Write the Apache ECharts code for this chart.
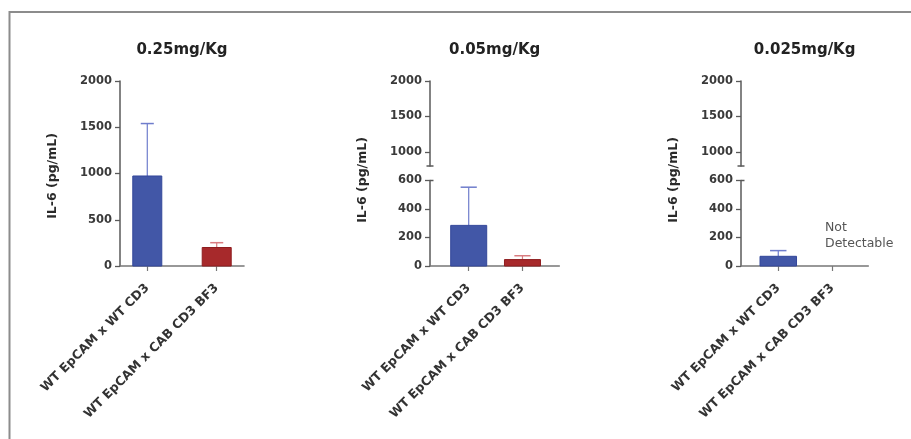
<!DOCTYPE html>
<html>
<head>
<meta charset="utf-8">
<style>
  html, body { margin: 0; padding: 0; background: #fff; }
  #chart { width: 911px; height: 439px; }
</style>
<script src="https://cdn.jsdelivr.net/npm/echarts@6/dist/echarts.min.js"></script>
</head>
<body>
<div id="chart"></div>
<script>
// ---- data ----
var categories = ['WT EpCAM x WT CD3', 'WT EpCAM x CAB CD3 BF3'];
var doses = ['0.25mg/Kg', '0.05mg/Kg', '0.025mg/Kg'];
var meanDose025 = [973, 200];
var upperDose025 = [1540, 252];
var meanDose005 = [285, 45];
var upperDose005 = [553, 72];
var meanDose0025 = [68, null];
var upperDose0025 = [108, null];
var fullTicks = [0, 500, 1000, 1500, 2000];
var upperTicks = [1000, 1500, 2000];
var lowerTicks = [0, 200, 400, 600];
var noteText = 'Not\nDetectable';

// ---- style / layout ----
var FONT = 'DejaVu Sans';
var barColors = ['#4257a7', '#a7292b'];
var barBorders = ['#33479a', '#8e1d1f'];
var whiskerColors = ['#6f7dcc', '#d97c80'];
var axisColor = '#5a5a5a';
var xAxisColor = '#777777';

var panels = [
  { left: 120, width: 124, xmin: -0.393, xmax: 1.393, barW: 29, broken: false,
    mean: meanDose025, upper: upperDose025 },
  { left: 430, width: 129.3, xmin: -0.72, xmax: 1.685, barW: 36, broken: true,
    mean: meanDose005, upper: upperDose005 },
  { left: 741, width: 127.3, xmin: -0.69, xmax: 1.667, barW: 36.5, broken: true,
    mean: meanDose0025, upper: upperDose0025 }
];
var TOP = 81, BOTTOM = 266, UPPER_BOTTOM = 166, LOWER_TOP = 180.5;

var grids = [], xAxes = [], yAxes = [], series = [], graphics = [];

function makeData(p) {
  var d = [];
  for (var i = 0; i < categories.length; i++) {
    if (p.mean[i] != null) d.push([i, p.mean[i], p.upper[i]]);
  }
  return d;
}

function barRenderer(barW) {
  return function (params, api) {
    var x = api.value(0), m = api.value(1), u = api.value(2);
    var idx = Math.round(x);
    var base = api.coord([x, 0]);
    var top = api.coord([x, m]);
    var up = api.coord([x, u]);
    var cw = barW * 0.45;
    return {
      type: 'group',
      children: [
        { type: 'line', shape: { x1: base[0], y1: top[1], x2: base[0], y2: up[1] },
          style: { stroke: whiskerColors[idx], lineWidth: 1.2 } },
        { type: 'line', shape: { x1: base[0] - cw / 2, y1: up[1], x2: base[0] + cw / 2, y2: up[1] },
          style: { stroke: whiskerColors[idx], lineWidth: 1.5 } },
        { type: 'rect', shape: { x: base[0] - barW / 2, y: top[1], width: barW, height: base[1] - top[1] },
          style: { fill: barColors[idx], stroke: barBorders[idx], lineWidth: 1 } }
      ]
    };
  };
}

function capRenderer(leftLen, rightLen) {
  return function (params, api) {
    var p = api.coord([api.value(0), api.value(1)]);
    return { type: 'line', shape: { x1: p[0] - leftLen, y1: p[1], x2: p[0] + rightLen, y2: p[1] },
      style: { stroke: axisColor, lineWidth: 1.5 } };
  };
}

var yLabelStyle = { fontFamily: FONT, fontWeight: 'bold', fontSize: 11.5, color: '#3a3a3a', margin: 8,
  formatter: function (v) { return String(v); } };

panels.forEach(function (p, pi) {
  var catX = {
    type: 'value', min: p.xmin, max: p.xmax,
    axisLine: { show: true, onZero: false, lineStyle: { color: xAxisColor, width: 1.6 } },
    axisTick: { show: true, customValues: [0, 1], length: 5, lineStyle: { color: xAxisColor, width: 1.2 } },
    axisLabel: {
      show: true, customValues: [0, 1], rotate: 45, margin: 20,
      fontFamily: FONT, fontWeight: 'bold', fontSize: 12.5, color: '#333',
      formatter: function (v) { return categories[Math.round(v)]; }
    },
    splitLine: { show: false }
  };
  var yBase = {
    type: 'value',
    axisLine: { show: true, onZero: false, lineStyle: { color: axisColor, width: 1.5 } },
    axisTick: { show: true, length: 5, lineStyle: { color: axisColor, width: 1.3 } },
    axisLabel: yLabelStyle,
    splitLine: { show: false }
  };
  if (!p.broken) {
    var gi = grids.length;
    grids.push({ left: p.left, width: p.width, top: TOP, height: BOTTOM - TOP });
    xAxes.push(Object.assign({ gridIndex: gi }, catX));
    yAxes.push(Object.assign({ gridIndex: gi, min: fullTicks[0], max: fullTicks[fullTicks.length - 1],
      interval: fullTicks[1] - fullTicks[0] }, yBase));
    series.push({ type: 'custom', xAxisIndex: gi, yAxisIndex: gi, data: makeData(p),
      renderItem: barRenderer(p.barW), clip: false });
  } else {
    // upper segment
    var gu = grids.length;
    grids.push({ left: p.left, width: p.width, top: TOP, height: UPPER_BOTTOM - TOP });
    xAxes.push({ gridIndex: gu, type: 'value', min: p.xmin, max: p.xmax, show: false });
    yAxes.push(Object.assign({}, yBase, { gridIndex: gu, min: 800, max: upperTicks[upperTicks.length - 1],
      axisTick: { show: true, length: 5, customValues: upperTicks, lineStyle: { color: axisColor, width: 1.3 } },
      axisLabel: Object.assign({ customValues: upperTicks }, yLabelStyle) }));
    series.push({ type: 'custom', xAxisIndex: gu, yAxisIndex: gu, data: [[p.xmin, 800]],
      renderItem: capRenderer(3.5, 3.5), clip: false, silent: true });
    // lower segment
    var gl = grids.length;
    grids.push({ left: p.left, width: p.width, top: LOWER_TOP, height: BOTTOM - LOWER_TOP });
    xAxes.push(Object.assign({ gridIndex: gl }, catX));
    yAxes.push(Object.assign({}, yBase, { gridIndex: gl, min: lowerTicks[0], max: lowerTicks[lowerTicks.length - 1],
      interval: lowerTicks[1] - lowerTicks[0] }));
    series.push({ type: 'custom', xAxisIndex: gl, yAxisIndex: gl, data: makeData(p),
      renderItem: barRenderer(p.barW), clip: false });
    series.push({ type: 'custom', xAxisIndex: gl, yAxisIndex: gl, data: [[p.xmin, lowerTicks[lowerTicks.length - 1]]],
      renderItem: capRenderer(0, 3.5), clip: false, silent: true });
  }
  // panel title
  graphics.push({ type: 'text', x: p.left + p.width / 2, y: 50,
    style: { text: doses[pi], align: 'center', verticalAlign: 'middle',
      font: 'bold 15px "' + FONT + '"', fill: '#222' } });
  // y-axis name
  graphics.push({ type: 'text', x: p.left - 67, y: p.broken ? 180 : 176, rotation: Math.PI / 2,
    style: { text: 'IL-6 (pg/mL)', align: 'center', verticalAlign: 'middle',
      font: 'bold 12.5px "' + FONT + '"', fill: '#2a2a2a' } });
});

// note for non-detectable group
graphics.push({ type: 'text', x: 825, y: 219,
  style: { text: noteText, align: 'left', verticalAlign: 'top', lineHeight: 16.5,
    font: '12.5px "' + FONT + '"', fill: '#555' } });
// frame
graphics.push({ type: 'rect', shape: { x: 9.5, y: 12, width: 960, height: 500 },
  style: { fill: 'none', stroke: '#8c8c8c', lineWidth: 2 }, silent: true });

var chart = echarts.init(document.getElementById('chart'), null, { renderer: 'canvas' });
chart.setOption({
  animation: false,
  backgroundColor: '#ffffff',
  grid: grids,
  xAxis: xAxes,
  yAxis: yAxes,
  series: series,
  graphic: graphics
});
</script>
</body>
</html>
